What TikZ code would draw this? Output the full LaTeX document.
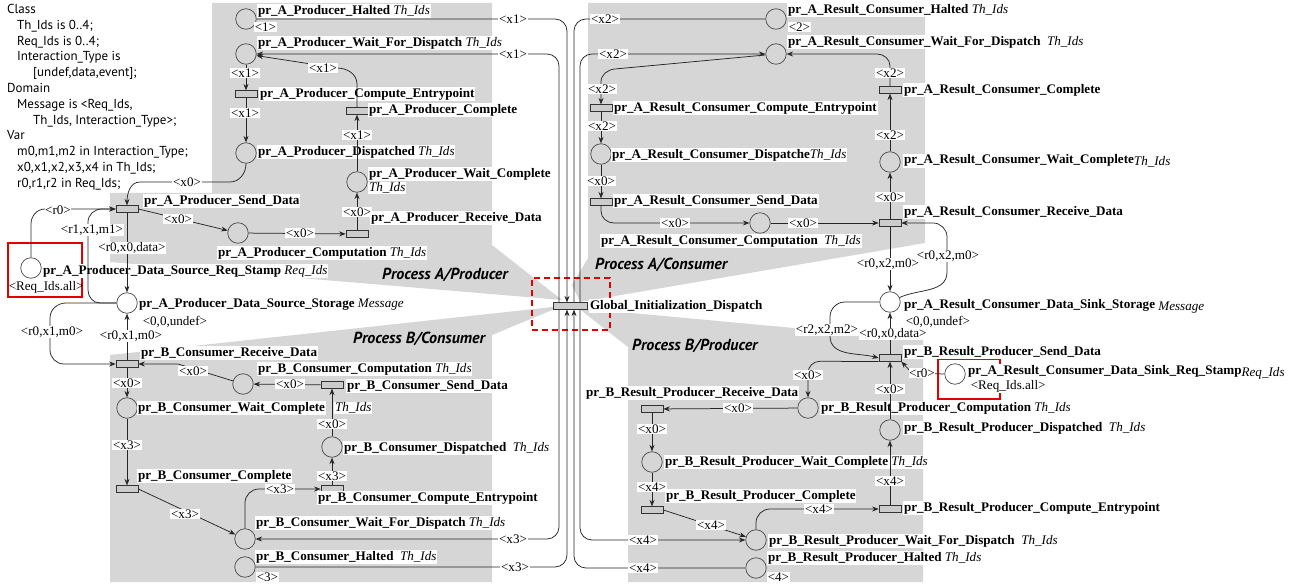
\documentclass[tikz,border=0pt]{standalone}
\usepackage{fontspec}
\setmainfont{Liberation Serif}
\newfontfamily\hdrfont{PT Sans}
\usetikzlibrary{arrows.meta}
\newcommand{\tyy}[1]{{\normalfont\itshape #1}}
\newcommand{\lfs}{\fontsize{13.1}{14}\selectfont}
\begin{document}
\begin{tikzpicture}[x=1pt,y=-1pt,
  place/.style={circle,draw=black!70,line width=0.7pt,minimum size=20.5pt,inner sep=0pt},
  trans/.style={rectangle,draw=black!80,fill=gray!40,line width=0.7pt,minimum width=22pt,minimum height=6.5pt,inner sep=0pt},
  nm/.style={anchor=west,fill=white,inner sep=0.8pt,font=\lfs\bfseries},
  al/.style={fill=white,inner sep=0.6pt,font=\lfs},
  mk/.style={anchor=west,fill=white,inner sep=0.6pt,font=\lfs},
  arc/.style={draw=black!85,line width=0.75pt},
  arr/.style={arc,-{Stealth[length=6.5pt,width=5pt]}},
  region/.style={fill=gray!32,draw=none},
  proc/.style={anchor=west,inner sep=0pt,font=\hdrfont\fontsize{16}{18}\selectfont\bfseries\itshape},
  redbox/.style={draw=red!90!black,line width=1.6pt,inner sep=0pt},
]
\useasboundingbox (0,0) rectangle (1302,585);
% regions
\fill[region] (212,3) -- (492,3) -- (492,245) -- (562,300) -- (110,262) -- (110,193) -- (212,193) -- cycle;
\fill[region] (110,355) -- (562,306) -- (492,335) -- (492,582) -- (110,582) -- cycle;
\fill[region] (588,3) -- (925,3) -- (925,243) -- (580,302) -- (572,285) -- (588,258) -- cycle;
\fill[region] (578,308) -- (923,340) -- (923,582) -- (628,582) -- (628,347) -- cycle;
% red boxes
\node[redbox,minimum width=74pt,minimum height=54pt] (rbA) at (45,270) {};
\node[redbox,minimum width=62pt,minimum height=40pt] (rbB) at (969,379) {};
\node[redbox,dash pattern=on 6pt off 4pt,minimum width=78pt,minimum height=52pt] (rbG) at (571,304) {};
% header text
\node[anchor=north west,inner sep=0pt,align=left,font=\hdrfont\fontsize{13}{15.8}\selectfont] (hdr) at (7,4) {%
Class\\
\hspace*{10pt}Th\_Ids is 0..4;\\
\hspace*{10pt}Req\_Ids is 0..4;\\
\hspace*{10pt}Interaction\_Type is\\
\hspace*{26pt}[undef,data,event];\\
Domain\\
\hspace*{10pt}Message is <Req\_Ids,\\
\hspace*{26pt}Th\_Ids, Interaction\_Type>;\\
Var\\
\hspace*{10pt}m0,m1,m2 in Interaction\_Type;\\
\hspace*{10pt}x0,x1,x2,x3,x4 in Th\_Ids;\\
\hspace*{10pt}r0,r1,r2 in Req\_Ids;};
% places and transitions: A/Producer
\node[place] (AHalt) at (246,19) {};
\node[place] (AWait) at (246,54) {};
\node[trans] (ACompEP) at (246,94) {};
\node[place] (ADisp) at (246,153) {};
\node[trans] (AComplete) at (357,111) {};
\node[place] (AWaitC) at (357,182) {};
\node[trans] (ARecv) at (357,234) {};
\node[place] (AComp) at (238,233) {};
\node[trans] (ASend) at (127,209) {};
\node[place] (AReq) at (31,268) {};
\node[place] (AStore) at (127,303) {};
% B/Consumer
\node[trans] (BRecv) at (127,364) {};
\node[trans] (BSend) at (332,385) {};
\node[place] (BComp) at (243,384) {};
\node[place] (BWaitC) at (127,408) {};
\node[trans] (BComplete) at (127,489) {};
\node[place] (BWaitD) at (245,539) {};
\node[trans] (BCompEP) at (332,489) {};
\node[place] (BDisp) at (332,447) {};
\node[place] (BHalt) at (245,567) {};
% Global
\node[trans,minimum width=34pt] (GI) at (570,306) {};
\coordinate (c559) at (559,0);
\coordinate (c567) at (567,0);
\coordinate (c574) at (574,0);
\coordinate (c580) at (580,0);
% A/Consumer
\node[place] (ARHalt) at (776,19) {};
\node[place] (ARWait) at (776,54) {};
\node[trans] (ARCompEP) at (601,108) {};
\node[place] (ARDisp) at (601,154) {};
\node[trans] (ARSend) at (601,202) {};
\node[place] (ARComp) at (760,223) {};
\node[trans] (ARRecv) at (890,223) {};
\node[place] (ARWaitC) at (890,162) {};
\node[trans] (ARComplete) at (890,90) {};
\node[place] (ARStore) at (890,302) {};
% B/Producer
\node[trans] (BRSend) at (890,358) {};
\node[place] (BRReq) at (955,374) {};
\node[place] (BRComp) at (808,408) {};
\node[trans] (BRRecv) at (652,409) {};
\node[place] (BRWaitC) at (652,462) {};
\node[trans] (BRComplete) at (652,510) {};
\node[place] (BRWaitD) at (756,540) {};
\node[trans] (BRCompEP) at (890,509) {};
\node[place] (BRDisp) at (890,430) {};
\node[place] (BRHalt) at (756,568) {};
% name labels
\node[nm] (nAHalt) at (257,11) {pr\_A\_Producer\_Halted \tyy{Th\_Ids}};
\node[nm] (nAWait) at (257,43) {pr\_A\_Producer\_Wait\_For\_Dispatch \tyy{Th\_Ids}};
\node[nm] (nACompEP) at (259,94) {pr\_A\_Producer\_Compute\_Entrypoint};
\node[nm] (nAComplete) at (368,110) {pr\_A\_Producer\_Complete};
\node[nm] (nADisp) at (257,152) {pr\_A\_Producer\_Dispatched \tyy{Th\_Ids}};
\node[nm] (nAWaitC) at (368,174) {pr\_A\_Producer\_Wait\_Complete};
\node[nm] (nAWaitCt) at (368,188) {\tyy{Th\_Ids}};
\node[nm] (nARecv) at (370,218) {pr\_A\_Producer\_Receive\_Data};
\node[nm] (nAComp) at (217,253) {pr\_A\_Producer\_Computation \tyy{Th\_Ids}};
\node[nm] (nASend) at (143,201) {pr\_A\_Producer\_Send\_Data};
\node[nm] (nAReq) at (42,271) {pr\_A\_Producer\_Data\_Source\_Req\_Stamp \tyy{Req\_Ids}};
\node[nm] (nAStore) at (138,304) {pr\_A\_Producer\_Data\_Source\_Storage \tyy{Message}};
\node[nm] (nBRecv) at (140,353) {pr\_B\_Consumer\_Receive\_Data};
\node[nm] (nBComp) at (257,369) {pr\_B\_Consumer\_Computation \tyy{Th\_Ids}};
\node[nm] (nBSend) at (346,386) {pr\_B\_Consumer\_Send\_Data};
\node[nm] (nBWaitC) at (137,408) {pr\_B\_Consumer\_Wait\_Complete};
\node[nm] (nBWaitCt) at (nBWaitC.east) [xshift=8pt] {\tyy{Th\_Ids}};
\node[nm] (nBDisp) at (343,448) {pr\_B\_Consumer\_Dispatched \ \tyy{Th\_Ids}};
\node[nm] (nBComplete) at (137,476) {pr\_B\_Consumer\_Complete};
\node[nm] (nBCompEP) at (317,498) {pr\_B\_Consumer\_Compute\_Entrypoint};
\node[nm] (nBWaitD) at (255,523) {pr\_B\_Consumer\_Wait\_For\_Dispatch \tyy{Th\_Ids}};
\node[nm] (nBHalt) at (255,557) {pr\_B\_Consumer\_Halted \ \tyy{Th\_Ids}};
\node[nm] (nGI) at (589,306) {Global\_Initialization\_Dispatch};
\node[nm] (nARHalt) at (787,10) {pr\_A\_Result\_Consumer\_Halted \tyy{Th\_Ids}};
\node[nm] (nARWait) at (787,42) {pr\_A\_Result\_Consumer\_Wait\_For\_Dispatch \ \tyy{Th\_Ids}};
\node[nm] (nARCompEP) at (613,108) {pr\_A\_Result\_Consumer\_Compute\_Entrypoint};
\node[nm] (nARComplete) at (903,90) {pr\_A\_Result\_Consumer\_Complete};
\node[nm] (nARDisp) at (611,155) {pr\_A\_Result\_Consumer\_Dispatche\tyy{Th\_Ids}};
\node[nm] (nARWaitC) at (903,161) {pr\_A\_Result\_Consumer\_Wait\_Complete\tyy{\raisebox{-2.5pt}{Th\_Ids}}};
\node[nm] (nARSend) at (613,201) {pr\_A\_Result\_Consumer\_Send\_Data};
\node[nm] (nARComp) at (600,241) {pr\_A\_Result\_Consumer\_Computation \ \tyy{Th\_Ids}};
\node[nm] (nARRecv) at (903,212) {pr\_A\_Result\_Consumer\_Receive\_Data};
\node[nm] (nARStore) at (903,306) {pr\_A\_Result\_Consumer\_Data\_Sink\_Storage \tyy{\raisebox{-2pt}{Message}}};
\node[nm] (nBRSend) at (903,352) {pr\_B\_Result\_Producer\_Send\_Data};
\node[nm] (nBRReq) at (967,372) {pr\_A\_Result\_Consumer\_Data\_Sink\_Req\_Stamp\tyy{\raisebox{-2pt}{Req\_Ids}}};
\node[nm] (nBRComp) at (820,408) {pr\_B\_Result\_Producer\_Computation \tyy{Th\_Ids}};
\node[nm] (nBRRecv) at (585,393) {pr\_B\_Result\_Producer\_Receive\_Data};
\node[nm] (nBRDisp) at (903,428) {pr\_B\_Result\_Producer\_Dispatched \ \tyy{Th\_Ids}};
\node[nm] (nBRWaitC) at (664,462) {pr\_B\_Result\_Producer\_Wait\_Complete \tyy{Th\_Ids}};
\node[nm] (nBRComplete) at (665,496) {pr\_B\_Result\_Producer\_Complete};
\node[nm] (nBRCompEP) at (903,508) {pr\_B\_Result\_Producer\_Compute\_Entrypoint};
\node[nm] (nBRWaitD) at (768,541) {pr\_B\_Result\_Producer\_Wait\_For\_Dispatch \ \tyy{Th\_Ids}};
\node[nm] (nBRHalt) at (767,558) {pr\_B\_Result\_Producer\_Halted \tyy{Th\_Ids}};
% markings
\node[mk] (mA1) at (254,27) {<1>};
\node[mk] (mAR2) at (788,27) {<2>};
\node[mk] (mB3) at (256,577) {<3>};
\node[mk] (mBR4) at (767,577) {<4>};
\node[mk] (mAU) at (142,322) {<0,0,undef>};
\node[mk] (mARU) at (905,322) {<0,0,undef>};
\node[mk,fill=none] (mAReq) at (8,287) {<Req\_Ids.all>};
\node[mk] (mBRReq) at (970,386) {<Req\_Ids.all>};
% process labels
\node[proc] (pA) at (382,275) {Process A/Producer};
\node[proc] (pB) at (353,339) {Process B/Consumer};
\node[proc] (pAR) at (595,265) {Process A/Consumer};
\node[proc] (pBR) at (632,346) {Process B/Producer};
% arcs A/Producer
\draw[arr] (AWait) -- (ACompEP);
\draw[arr] (ACompEP) -- (ADisp);
\draw[arr] (AWaitC) -- (AComplete);
\draw[arr] (AComplete.north) -- (357,84) to[out=90,in=0] (337,68) -- (AWait);
\draw[arr] (ARecv) -- (AWaitC);
\draw[arr] (ADisp.south) to[out=-90,in=0] (230,182) -- (140,182) to[out=180,in=90] (ASend.north);
\draw[arr] (ASend.east) -- (AComp);
\draw[arr] (AComp) -- (ARecv);
\draw[arr] (ASend) -- (AStore);
\draw[arr] (AReq.north) -- (31,224) to[out=90,in=180] (45,209) -- (ASend.west);
\draw[arr] (AStore.west) -- (100,303) to[out=180,in=-90] (88,290) -- (88,222) to[out=90,in=180] (102,209) -- (ASend.west);
\draw[arr] (AStore.west) -- (66,303) to[out=180,in=90] (50,318) -- (50,350) to[out=-90,in=180] (64,364) -- (BRecv.west);
\draw[arr] (BRecv) -- (AStore);
% arcs B/Consumer
\draw[arr] (BSend) -- (BComp);
\draw[arr] (BComp) -- (178,364) -- (BRecv.east);
\draw[arr] (BRecv) -- (BWaitC);
\draw[arr] (BWaitC) -- (BComplete);
\draw[arr] (BComplete.east) -- (BWaitD);
\draw[arr] (BWaitD.north) -- (245,503) to[out=90,in=180] (259,489) -- (BCompEP.west);
\draw[arr] (BCompEP) -- (BDisp);
\draw[arr] (BDisp) -- (BSend);
% arcs Global
\draw[arr] (AHalt.east) -- (555,19) to[out=0,in=90] (567,31) -- (GI.north -| c567);
\draw[arr] (GI.north -| c559) -- (559,66) to[out=90,in=0] (547,54) -- (AWait.east);
\draw[arc] (ARHalt.west) -- (586,19) to[out=180,in=90] (574,31) -- (GI.north -| c574);
\draw[arr] (GI.north -| c580) -- (580,66) to[out=90,in=180] (592,54) -- (ARWait.west);
\draw[arr] (GI.south -| c559) -- (559,527) to[out=-90,in=0] (547,539) -- (BWaitD.east);
\draw[arr] (BHalt.east) -- (555,567) to[out=0,in=-90] (567,555) -- (GI.south -| c567);
\draw[arr] (BRHalt.west) -- (586,568) to[out=180,in=-90] (574,556) -- (GI.south -| c574);
\draw[arr] (GI.south -| c580) -- (580,528) to[out=-90,in=180] (592,540) -- (BRWaitD.west);
% arcs A/Consumer
\draw[arr] (ARWait) -- (615,69) to[out=185,in=90] (601,82) -- (ARCompEP.north);
\draw[arr] (ARCompEP) -- (ARDisp);
\draw[arr] (ARDisp) -- (ARSend);
\draw[arr] (ARSend.south) -- (601,211) to[out=-90,in=180] (614,223) -- (ARComp.west);
\draw[arr] (ARComp) -- (ARRecv);
\draw[arr] (ARRecv) -- (ARWaitC);
\draw[arr] (ARWaitC) -- (ARComplete);
\draw[arr] (ARComplete.north) -- (890,66) to[out=90,in=0] (877,54) -- (ARWait.east);
\draw[arr] (ARRecv) -- (ARStore);
\draw[arr] (ARStore) to[out=25,in=-90] (947,272) -- (947,237) to[out=90,in=0] (933,223) -- (ARRecv.east);
\draw[arr] (ARStore.west) -- (845,302) to[out=180,in=90] (830,317) -- (830,336) to[out=-90,in=165] (BRSend.west);
\draw[arr] (BRSend) -- (ARStore);
% arcs B/Producer
\draw[arr] (BRSend.south west) -- (820,361.25) to[out=180,in=90] (808,373) -- (BRComp.north);
\draw[arr] (BRComp) -- (BRRecv);
\draw[arr] (BRRecv) -- (BRWaitC);
\draw[arr] (BRWaitC) -- (BRComplete);
\draw[arr] (BRComplete.east) -- (BRWaitD);
\draw[arr] (BRWaitD.north) -- (756,523) to[out=90,in=180] (770,509) -- (BRCompEP.west);
\draw[arr] (BRCompEP) -- (BRDisp);
\draw[arr] (BRDisp) -- (BRSend);
\draw[arr] (BRReq.west) -- (912,373) -- (BRSend.south east);
% arc labels A
\node[al] (a1) at (245,73) {<x1>};
\node[al] (a2) at (245,113) {<x1>};
\node[al] (a3) at (323,68) {<x1>};
\node[al] (a4) at (357,135) {<x1>};
\node[al] (a5) at (357,212) {<x0>};
\node[al] (a6) at (187,182) {<x0>};
\node[al] (a7) at (178,219) {<x0>};
\node[al] (a8) at (300,233) {<x0>};
\node[al] (a9) at (132,248) {<r0,x0,data>};
\node[al] (a10) at (58,210) {<r0>};
\node[al] (a11) at (92,230) {<r1,x1,m1>};
\node[al] (a12) at (52,332) {<r0,x1,m0>};
\node[al] (a13) at (131,336) {<r0,x1,m0>};
% arc labels Global
\node[al] (g1) at (513,19) {<x1>};
\node[al] (g2) at (513,54) {<x1>};
\node[al] (g3) at (605,19) {<x2>};
\node[al] (g4) at (613,54) {<x2>};
\node[al] (g5) at (513,539) {<x3>};
\node[al] (g6) at (515,567) {<x3>};
\node[al] (g7) at (643,540) {<x4>};
\node[al] (g8) at (643,568) {<x4>};
% arc labels B
\node[al] (b1) at (290,384) {<x0>};
\node[al] (b2) at (193,371) {<x0>};
\node[al] (b3) at (127,383) {<x0>};
\node[al] (b4) at (127,445) {<x3>};
\node[al] (b5) at (185,514) {<x3>};
\node[al] (b6) at (280,489) {<x3>};
\node[al] (b7) at (332,476) {<x3>};
\node[al] (b8) at (332,424) {<x0>};
% arc labels A/Consumer
\node[al] (c1) at (602,89) {<x2>};
\node[al] (c2) at (602,126) {<x2>};
\node[al] (c3) at (601,181) {<x0>};
\node[al] (c4) at (675,223) {<x0>};
\node[al] (c5) at (803,223) {<x0>};
\node[al] (c6) at (890,197) {<x0>};
\node[al] (c7) at (890,135) {<x2>};
\node[al] (c8) at (890,73) {<x2>};
\node[al] (c9) at (888,264) {<r0,x2,m0>};
\node[al] (c10) at (948,256) {<r0,x2,m0>};
\node[al] (c11) at (827,330) {<r2,x2,m2>};
\node[al] (c12) at (893,334) {<r0,x0,data>};
% arc labels B/Producer
\node[al] (d1) at (808,375) {<x0>};
\node[al] (d2) at (738,408) {<x0>};
\node[al] (d3) at (652,429) {<x0>};
\node[al] (d4) at (652,487) {<x4>};
\node[al] (d5) at (711,525) {<x4>};
\node[al] (d6) at (819,509) {<x4>};
\node[al] (d7) at (890,481) {<x4>};
\node[al] (d8) at (890,389) {<x0>};
\node[al] (d9) at (922,373) {<r0>};
\end{tikzpicture}
\end{document}
